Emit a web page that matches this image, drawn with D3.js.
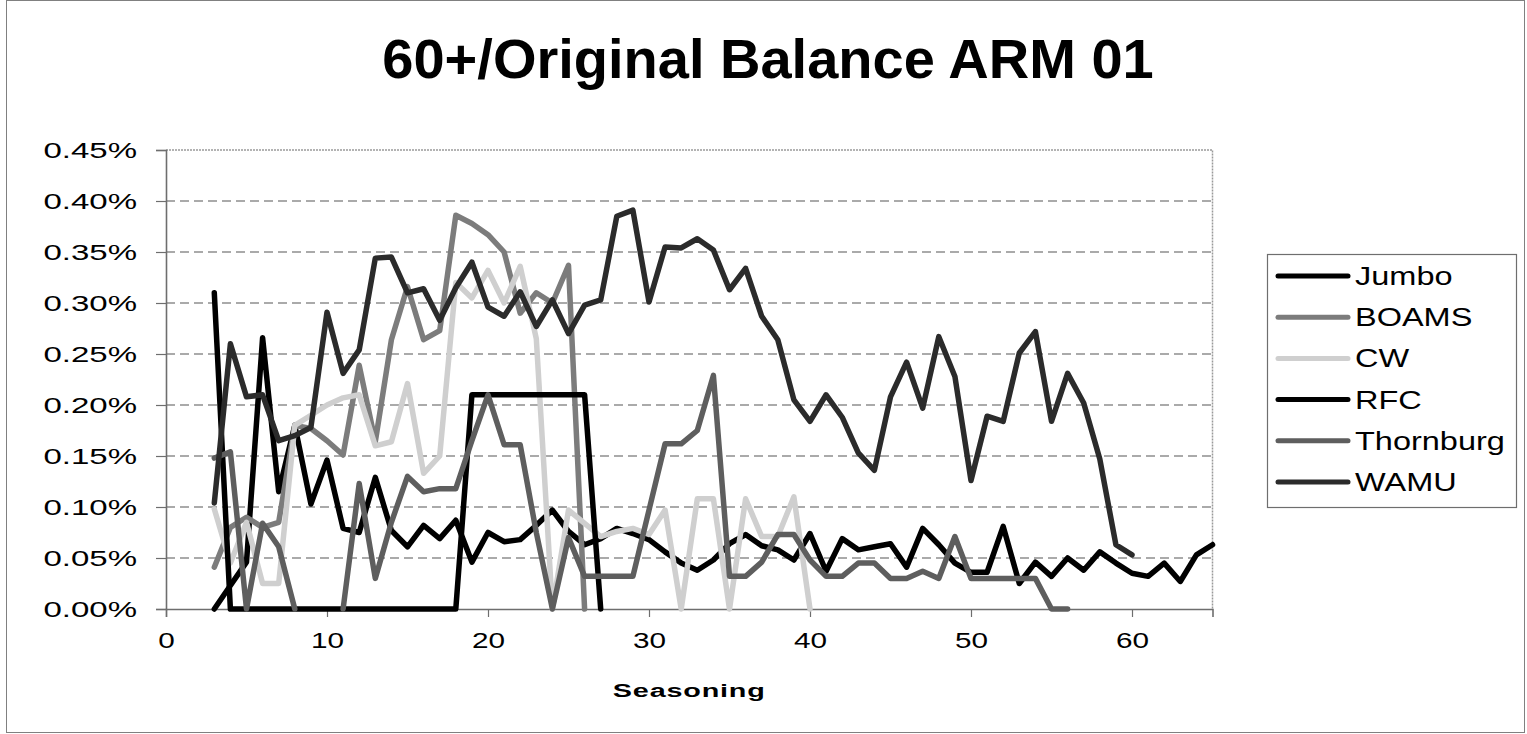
<!DOCTYPE html>
<html>
<head>
<meta charset="utf-8">
<script src="https://cdn.jsdelivr.net/npm/d3@7"></script>
<style>
  body { margin: 0; background: #fff; }
  svg { display: block; font-family: "Liberation Sans", Arial, sans-serif; }
</style>
</head>
<body>
<svg id="chart" width="1527" height="734"></svg>
<script>
// seasoning starts at month 3 for every series, null = no point
var startMonth = 3;

var jumbo = [0.000, 0.023, 0.046, 0.266, 0.115, 0.180, 0.103, 0.146, 0.079, 0.075,
  0.129, 0.077, 0.061, 0.082, 0.069, 0.087, 0.046, 0.075, 0.066, 0.068,
  0.082, 0.097, 0.076, 0.063, 0.069, 0.079, 0.074, 0.068, 0.056, 0.045,
  0.038, 0.048, 0.064, 0.073, 0.062, 0.058, 0.048, 0.074, 0.037, 0.069,
  0.058, 0.061, 0.064, 0.041, 0.079, 0.063, 0.045, 0.036, 0.036, 0.081,
  0.025, 0.046, 0.032, 0.050, 0.038, 0.056, 0.045, 0.035, 0.032, 0.045,
  0.027, 0.053, 0.063];

var boams = [0.041, 0.080, 0.090, 0.080, 0.085, 0.180, 0.177, 0.165, 0.151, 0.239,
  0.164, 0.264, 0.316, 0.264, 0.273, 0.386, 0.378, 0.367, 0.350, 0.290,
  0.310, 0.300, 0.337, 0.000];

var cw = [0.098, 0.045, 0.085, 0.025, 0.025, 0.180, 0.190, 0.200, 0.207, 0.210,
  0.160, 0.164, 0.221, 0.133, 0.150, 0.320, 0.305, 0.332, 0.300, 0.336,
  0.265, 0.000, 0.097, 0.084, 0.071, 0.076, 0.079, 0.073, 0.097, 0.000,
  0.108, 0.108, 0.000, 0.108, 0.071, 0.071, 0.110, 0.000];

var rfc = [0.310, 0, 0, 0, 0, 0, 0, 0, 0, 0, 0, 0, 0, 0, 0, 0,
  0.210, 0.210, 0.210, 0.210, 0.210, 0.210, 0.210, 0.210, 0];

var thornburg = [0.148, 0.154, 0.000, 0.084, 0.061, 0.000, null, null, 0.000, 0.123,
  0.030, 0.085, 0.130, 0.115, 0.118, 0.118, 0.165, 0.210, 0.161, 0.161,
  0.075, 0.000, 0.070, 0.032, 0.032, 0.032, 0.032, 0.097, 0.162, 0.162,
  0.175, 0.229, 0.032, 0.032, 0.046, 0.073, 0.073, 0.048, 0.032, 0.032,
  0.045, 0.045, 0.030, 0.030, 0.037, 0.030, 0.071, 0.030, 0.030, 0.030,
  0.030, 0.030, 0.000, 0.000];

var wamu = [0.104, 0.260, 0.208, 0.210, 0.165, 0.170, 0.178, 0.291, 0.231, 0.254,
  0.344, 0.345, 0.310, 0.314, 0.283, 0.315, 0.340, 0.296, 0.287, 0.311,
  0.277, 0.303, 0.270, 0.298, 0.303, 0.385, 0.391, 0.301, 0.355, 0.354,
  0.363, 0.352, 0.313, 0.334, 0.287, 0.264, 0.205, 0.184, 0.210, 0.188,
  0.153, 0.136, 0.208, 0.242, 0.197, 0.267, 0.228, 0.126, 0.189, 0.184,
  0.251, 0.272, 0.184, 0.231, 0.202, 0.147, 0.063, 0.053];

var seriesNames = ['Jumbo', 'BOAMS', 'CW', 'RFC', 'Thornburg', 'WAMU'];
var seriesValues = [jumbo, boams, cw, rfc, thornburg, wamu];
var seriesColors = ['#000000', '#7c7c7c', '#cfcfcf', '#000000', '#5e5e5e', '#2b2b2b'];

var yTicks = [0, 0.05, 0.10, 0.15, 0.20, 0.25, 0.30, 0.35, 0.40, 0.45];
var xTicks = [0, 10, 20, 30, 40, 50, 60];

var svg = d3.select('#chart');

// outer chart border
svg.append('rect')
  .attr('x', 6.5).attr('y', 0.5)
  .attr('width', 1518).attr('height', 732)
  .attr('fill', 'none')
  .attr('stroke', '#808080')
  .attr('stroke-width', 1);

var plotLeft = 166, plotRight = 1212.5, plotTop = 150, plotBottom = 609;

var x = d3.scaleLinear().domain([0, 65]).range([plotLeft, plotRight]);
var y = d3.scaleLinear().domain([0, 0.45]).range([plotBottom, plotTop]);

// title
svg.append('text')
  .attr('x', 768).attr('y', 78)
  .attr('text-anchor', 'middle')
  .style('font-size', '56px')
  .style('font-weight', 'bold')
  .text('60+/Original Balance ARM 01');

// dashed gridlines
svg.append('g').selectAll('line')
  .data(yTicks.filter(function(d) { return d > 0 && d < 0.45; }))
  .enter().append('line')
  .attr('x1', plotLeft).attr('x2', plotRight)
  .attr('y1', function(d) { return y(d); })
  .attr('y2', function(d) { return y(d); })
  .attr('stroke', '#8f8f8f')
  .attr('stroke-width', 1.6)
  .attr('stroke-dasharray', '9,5');

// plot border top/right
svg.append('path')
  .attr('d', 'M' + plotLeft + ',' + plotTop + 'H' + plotRight + 'V' + plotBottom)
  .attr('fill', 'none')
  .attr('stroke', '#9a9a9a')
  .attr('stroke-width', 1.5)
  .attr('stroke-dasharray', '2,1');

// axes
var yAxis = d3.axisLeft(y)
  .tickValues(yTicks)
  .tickSize(10)
  .tickFormat(function(d) { return d3.format('.2f')(d) + '%'; });

var yG = svg.append('g')
  .attr('transform', 'translate(' + plotLeft + ',0)')
  .call(yAxis);

var xAxis = d3.axisBottom(x)
  .tickValues(xTicks)
  .tickSize(8)
  .tickFormat(d3.format('d'));

var xG = svg.append('g')
  .attr('transform', 'translate(0,' + plotBottom + ')')
  .call(xAxis);

[yG, xG].forEach(function(g) {
  g.select('.domain').attr('stroke', '#6e6e6e').attr('stroke-width', 1.6);
  g.selectAll('.tick line').attr('stroke', '#6e6e6e').attr('stroke-width', 1.2);
  g.selectAll('.tick text')
    .attr('fill', '#000')
    .style('font-size', '22px')
    .style('font-family', '"Liberation Sans", Arial, sans-serif');
});

// the old excel picture has its small text stretched sideways
yG.selectAll('.tick text')
  .attr('x', 0).attr('dy', '0.36em')
  .attr('transform', 'translate(-29,0) scale(1.5,1)');

xG.selectAll('.tick text')
  .attr('y', 0).attr('dy', 0)
  .attr('transform', 'translate(0,39) scale(1.35,1)');

// x axis title
svg.append('text')
  .attr('transform', 'translate(' + ((plotLeft + plotRight) / 2) + ',697) scale(1.6,1)')
  .attr('text-anchor', 'middle')
  .style('font-size', '18px')
  .style('font-weight', 'bold')
  .style('letter-spacing', '0.5px')
  .text('Seasoning');

// series lines
var line = d3.line()
  .defined(function(d) { return d.v !== null; })
  .x(function(d) { return x(d.m); })
  .y(function(d) { return y(d.v); });

var series = seriesNames.map(function(name, i) {
  return {
    name: name,
    color: seriesColors[i],
    points: seriesValues[i].map(function(v, j) { return {m: startMonth + j, v: v}; })
  };
});

svg.append('g').selectAll('path')
  .data(series)
  .enter().append('path')
  .attr('d', function(d) { return line(d.points); })
  .attr('fill', 'none')
  .attr('stroke', function(d) { return d.color; })
  .attr('stroke-width', 5.5)
  .attr('stroke-linejoin', 'round')
  .attr('stroke-linecap', 'round');

// legend
var legend = svg.append('g').attr('transform', 'translate(1267,254)');
legend.append('rect')
  .attr('x', 0.5).attr('y', 0.5)
  .attr('width', 249).attr('height', 253)
  .attr('fill', '#fff')
  .attr('stroke', '#6e6e6e')
  .attr('stroke-width', 1.2);

var legendItem = legend.selectAll('.legend-item')
  .data(series)
  .enter().append('g')
  .attr('class', 'legend-item')
  .attr('transform', function(d, i) { return 'translate(0,' + (22 + i * 41.2) + ')'; });

legendItem.append('line')
  .attr('x1', 11).attr('x2', 81)
  .attr('stroke', function(d) { return d.color; })
  .attr('stroke-width', 5)
  .attr('stroke-linecap', 'round');

legendItem.append('text')
  .attr('transform', 'translate(88,0) scale(1.3,1)')
  .attr('dy', '0.36em')
  .style('font-size', '25px')
  .text(function(d) { return d.name; });
</script>
</body>
</html>
